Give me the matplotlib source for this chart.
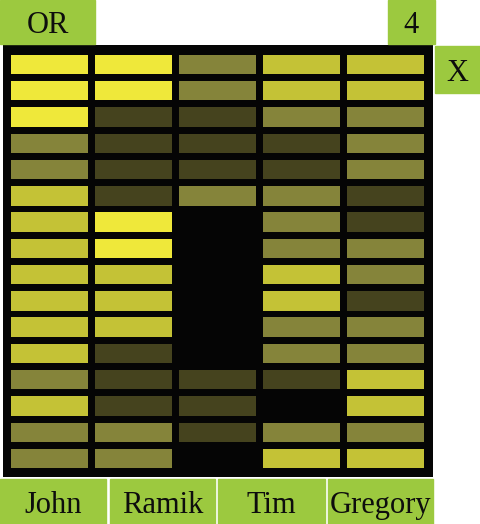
import matplotlib
matplotlib.use('Agg')
import matplotlib.pyplot as plt
from matplotlib.patches import Rectangle

# intensity levels per column, top row first (0 = black ... 4 = bright yellow)
john    = [4, 4, 4, 2, 2, 3, 3, 3, 3, 3, 3, 3, 2, 3, 2, 2]
ramik   = [4, 4, 1, 1, 1, 1, 4, 4, 3, 3, 3, 1, 1, 1, 2, 2]
middle  = [2, 2, 1, 1, 1, 2, 0, 0, 0, 0, 0, 0, 1, 1, 1, 0]
tim     = [3, 3, 2, 1, 1, 2, 2, 2, 3, 3, 2, 2, 1, 0, 2, 3]
gregory = [3, 3, 2, 2, 2, 1, 1, 2, 2, 1, 2, 2, 3, 3, 2, 3]
columns = [john, ramik, middle, tim, gregory]

names = ['John', 'Ramik', 'Tim', 'Gregory']
palette = ['#050505', '#45431e', '#85843a', '#c4c236', '#efe83a']
green = '#9cc93f'

W, H = 480, 524
fig = plt.figure(figsize=(W / 100, H / 100), dpi=100)
fig.patch.set_facecolor('white')

ax = fig.add_axes([3 / W, 1 - 477 / H, 430 / W, 432 / H])
ax.set_facecolor('#050505')
for i, col in enumerate(columns):
    rows = list(range(len(col)))
    ax.bar([i] * len(col), [0.74] * len(col), bottom=[r - 0.37 for r in rows],
           width=0.917, color=[palette[v] for v in col], linewidth=0)
ax.set_xlim(-0.55, 4.56)
ax.set_ylim(15.70, -0.74)
ax.set_xticks([])
ax.set_yticks([])
for s in ax.spines.values():
    s.set_visible(False)

def box(x0, y0, x1, y1, label, base):
    # pixel coords, origin top-left; base = text baseline
    fig.patches.append(Rectangle((x0 / W, 1 - y1 / H), (x1 - x0) / W, (y1 - y0) / H,
                                 transform=fig.transFigure, color=green, zorder=0))
    fig.text((x0 + x1) / 2 / W, 1 - base / H, label, ha='center', va='baseline',
             fontsize=22, family='Liberation Serif', color='#0d0d0d')

box(0, 0, 95, 44, 'OR', 33)
box(388, 0, 435, 44, '4', 33)
box(435, 46, 480, 93, 'X', 81)
bottom_boxes = [(0, 106), (110, 215), (218, 325), (328, 433)]
for (x0, x1), n in zip(bottom_boxes, names):
    box(x0, 479, x1, 524, n, 513)

fig.savefig('out.png', dpi=100)
